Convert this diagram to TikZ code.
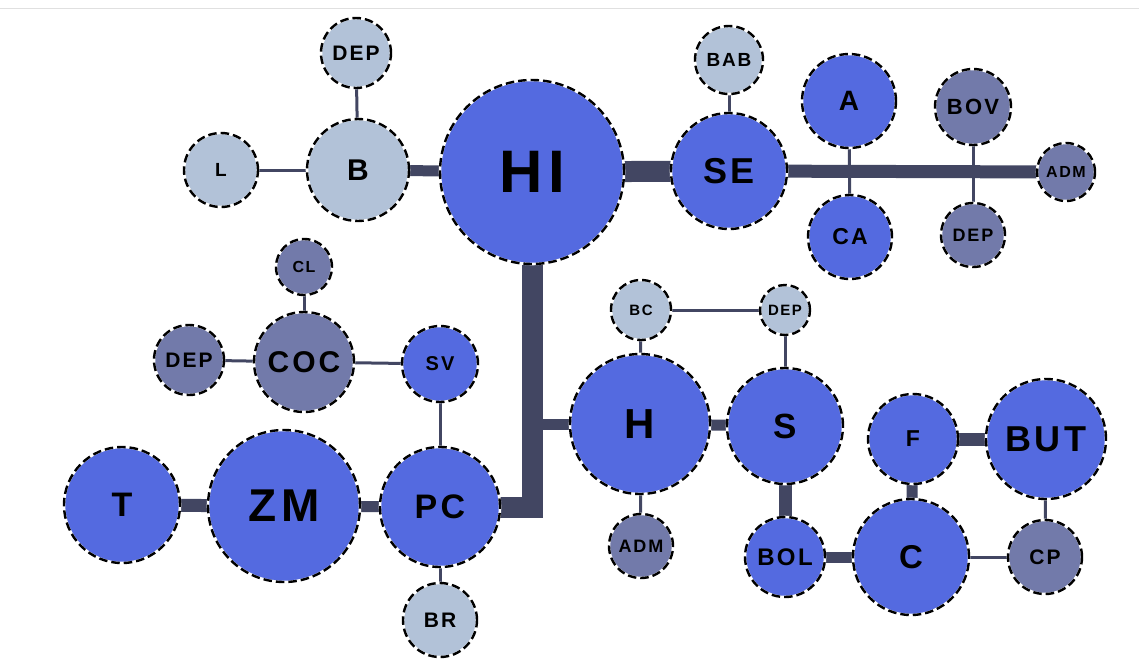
\documentclass[tikz,border=0pt]{standalone}
\usepackage{fontspec}
\setmainfont{Liberation Sans}[LetterSpace=10]
\usepackage{xcolor}
\usepackage{tikz}
\usetikzlibrary{backgrounds}

\definecolor{hub}{RGB}{84,106,224}
\definecolor{pale}{RGB}{178,194,216}
\definecolor{slate}{RGB}{114,122,170}
\definecolor{link}{RGB}{66,70,98}

\newcommand{\fz}[1]{\fontsize{#1}{#1}\selectfont\bfseries}

\tikzset{
	bubble/.style={circle, inner sep=0pt, draw=white, line width=2.6pt,
		postaction={draw=black, dash pattern=on 8.5pt off 4pt, line width=2.4pt}},
	thin link/.style={draw=link, line width=3pt},
	mid link/.style={draw=link, line width=11pt},
	fat link/.style={draw=link, line width=21pt}
}

\begin{document}
\begin{tikzpicture}[x=1pt, y=-1pt]
			\useasboundingbox (0,0) rectangle (1139,667);
			\draw[black!12, line width=1pt] (0,8) -- (1139,8);
			% 中心
			\node[bubble, fill=hub, minimum size=184pt, font=\fz{60}] (HI) at (532,172) {HI};
			% 左上
			\node[bubble, fill=pale, minimum size=102pt, font=\fz{30}] (B) at (358,170) {B};
			\node[bubble, fill=pale, minimum size=74pt, font=\fz{19}] (L) at (221,170) {L};
			\node[bubble, fill=pale, minimum size=70pt, font=\fz{21}] (depB) at (356,53) {DEP};
			% 右上
			\node[bubble, fill=hub, minimum size=116pt, font=\fz{36}] (SE) at (729,171) {SE};
			\node[bubble, fill=pale, minimum size=68pt, font=\fz{19}] (BAB) at (729,60) {BAB};
			\node[bubble, fill=hub, minimum size=94pt, font=\fz{28}] (A) at (849,101) {A};
			\node[bubble, fill=hub, minimum size=84pt, font=\fz{23}] (CA) at (850,237) {CA};
			\node[bubble, fill=slate, minimum size=76pt, font=\fz{22}] (BOV) at (973,107) {BOV};
			\node[bubble, fill=slate, minimum size=64pt, font=\fz{18}] (depS) at (973,235) {DEP};
			\node[bubble, fill=slate, minimum size=58pt, font=\fz{16}] (admS) at (1066,172) {ADM};
			% 左中
			\node[bubble, fill=slate, minimum size=100pt, font=\fz{30}] (COC) at (304,362) {COC};
			\node[bubble, fill=slate, minimum size=56pt, font=\fz{16}] (CL) at (304,267) {CL};
			\node[bubble, fill=slate, minimum size=70pt, font=\fz{21}] (depC) at (189,360) {DEP};
			\node[bubble, fill=hub, minimum size=76pt, font=\fz{20}] (SV) at (440,364) {SV};
			% 左下
			\node[bubble, fill=hub, minimum size=120pt, font=\fz{34}] (PC) at (440,507) {PC};
			\node[bubble, fill=hub, minimum size=152pt, font=\fz{46}] (ZM) at (284,506) {ZM};
			\node[bubble, fill=hub, minimum size=116pt, font=\fz{34}] (T) at (122,505) {T};
			\node[bubble, fill=pale, minimum size=74pt, font=\fz{21}] (BR) at (440,620) {BR};
			% 右中
			\node[bubble, fill=hub, minimum size=140pt, font=\fz{42}] (H) at (640,424) {H};
			\node[bubble, fill=hub, minimum size=116pt, font=\fz{35}] (S) at (785,426) {S};
			\node[bubble, fill=pale, minimum size=60pt, font=\fz{15}] (BC) at (641,310) {BC};
			\node[bubble, fill=pale, minimum size=50pt, font=\fz{15}] (depH) at (785,310) {DEP};
			\node[bubble, fill=slate, minimum size=64pt, font=\fz{18}] (admH) at (641,546) {ADM};
			% 右下
			\node[bubble, fill=hub, minimum size=80pt, font=\fz{24}] (BOL) at (785,557) {BOL};
			\node[bubble, fill=hub, minimum size=116pt, font=\fz{33}] (C) at (911,557) {C};
			\node[bubble, fill=hub, minimum size=90pt, font=\fz{23}] (F) at (913,439) {F};
			\node[bubble, fill=hub, minimum size=120pt, font=\fz{36}] (BUT) at (1046,439) {BUT};
			\node[bubble, fill=slate, minimum size=74pt, font=\fz{21}] (CP) at (1045,557) {CP};
			% 折线拐点
			\coordinate (bend) at (HI.center |- PC.center);
			\coordinate (fork) at (HI.center |- H.center);
			% 连线
			\begin{pgfonlayer}{background}
				\draw[mid link] (B.center) -- (HI.center);
				\draw[thin link] (L.center) -- (B.center);
				\draw[thin link] (depB.center) -- (B.center);
				\draw[fat link] (HI.center) -- (SE.center);
				\draw[thin link] (BAB.center) -- (SE.center);
				\draw[draw=link, line width=13pt] (SE.center) -- (admS.center);
				\draw[thin link] (A.center) -- (CA.center);
				\draw[thin link] (BOV.center) -- (depS.center);
				\draw[fat link] (HI.center) -- (bend) -- (PC.center);
				\draw[mid link] (fork) -- (H.center);
				\draw[mid link] (H.center) -- (S.center);
				\draw[thin link] (BC.center) -- (H.center);
				\draw[thin link] (BC.center) -- (depH.center);
				\draw[thin link] (depH.center) -- (S.center);
				\draw[thin link] (H.center) -- (admH.center);
				\draw[draw=link, line width=13pt] (S.center) -- (BOL.center);
				\draw[mid link] (BOL.center) -- (C.center);
				\draw[mid link] (F.center) -- (C.center);
				\draw[draw=link, line width=13pt] (F.center) -- (BUT.center);
				\draw[thin link] (BUT.center) -- (CP.center);
				\draw[thin link] (C.center) -- (CP.center);
				\draw[thin link] (CL.center) -- (COC.center);
				\draw[thin link] (depC.center) -- (COC.center);
				\draw[thin link] (COC.center) -- (SV.center);
				\draw[thin link] (SV.center) -- (PC.center);
				\draw[draw=link, line width=13pt] (T.center) -- (ZM.center);
				\draw[mid link] (ZM.center) -- (PC.center);
				\draw[thin link] (PC.center) -- (BR.center);
			\end{pgfonlayer}
		\end{tikzpicture}
\end{document}
